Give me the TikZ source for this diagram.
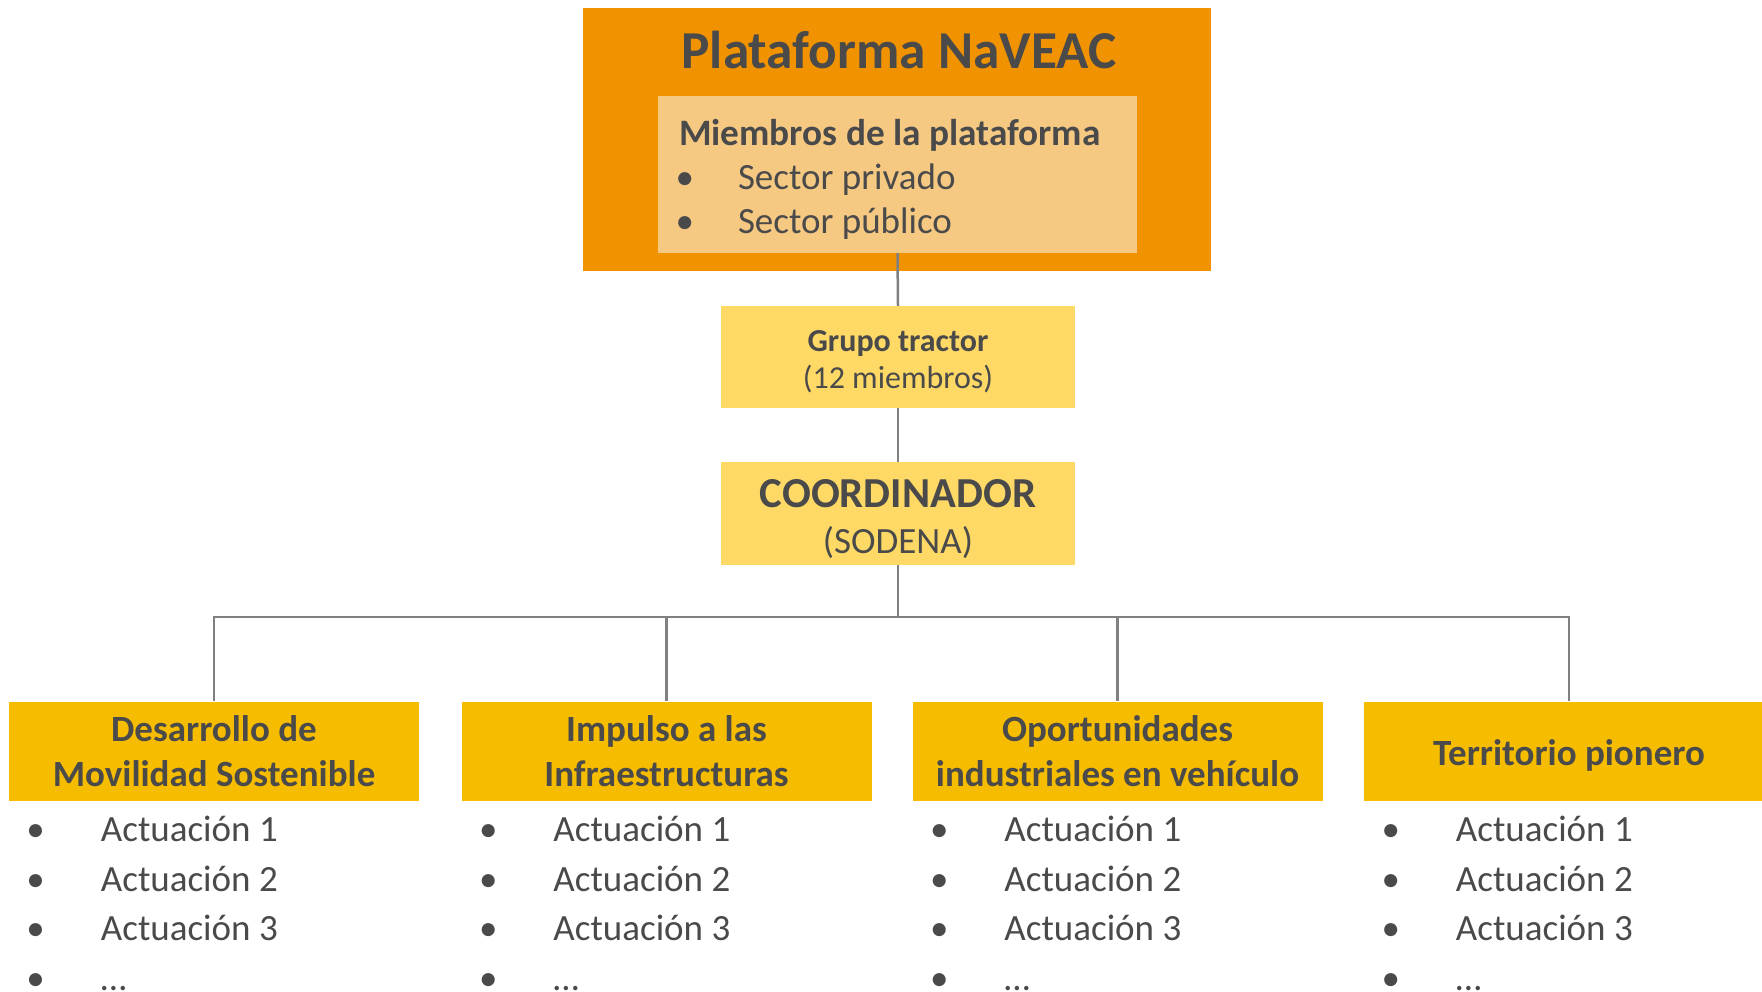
\documentclass[tikz,border=0pt]{standalone}
\usepackage{fontspec}
\setmainfont{Carlito}
\usetikzlibrary{positioning}
\definecolor{platorange}{HTML}{F19300}
\definecolor{memberfill}{HTML}{F6C983}
\definecolor{paleyellow}{HTML}{FFD966}
\definecolor{gold}{HTML}{F6BC00}
\definecolor{ink}{HTML}{4A4A4A}
\definecolor{wire}{HTML}{808080}
\newcommand{\bul}[1]{\makebox[#1][l]{\hspace{-3.5pt}•}}

\begin{document}
\begin{tikzpicture}[x=1pt, y=-1pt, text=ink,
    box/.style={inner sep=0pt, align=center},
    areabox/.style={box, fill=gold, minimum width=410pt, minimum height=99pt,
                    font=\fontsize{37}{45}\selectfont\bfseries},
    actlist/.style={inner sep=0pt, align=left, font=\fontsize{37}{49.5}\selectfont},
    link/.style={wire, line width=2.5pt}]
  \useasboundingbox (0,0) rectangle (1762,991);
  \clip (0,0) rectangle (1762,991);
  % platform and its members
  \node[box, fill=platorange, minimum width=628pt, minimum height=263pt] (plat) at (897,139.5) {};
  \node[box, font=\fontsize{53.3}{60}\selectfont\bfseries] (title) at (899,50) {Plataforma NaVEAC};
  \node[box, fill=memberfill, align=flush left, inner xsep=21pt, text width=437pt, minimum height=157pt,
        font=\fontsize{37}{44}\selectfont] (members) at (897.5,174.5)
       {\rule{0pt}{35.5pt}{\fontsize{37.3}{44}\selectfont\bfseries Miembros de la plataforma}\\
        \bul{59pt}Sector privado\\
        \bul{59pt}Sector público};
  \node[box, fill=paleyellow, minimum width=354pt, minimum height=102pt,
        font=\fontsize{32}{37}\selectfont] (group) at (898,357)
       {\rule{0pt}{30pt}\textbf{Grupo tractor}\\(12 miembros)};
  \node[box, fill=paleyellow, minimum width=354pt, minimum height=103pt,
        font=\fontsize{37}{46}\selectfont] (coord) at (898,513.5)
       {\rule{0pt}{40pt}{\fontsize{42.7}{46}\selectfont\bfseries COORDINADOR}\\(SODENA)};
  \draw[link] (members.south) -- (group.north);
  \draw[link] (group.south) -- (coord.north);
  \coordinate (bus) at (898,617);
  \draw[link] (coord.south) -- (bus);
  % working areas
  \foreach \name/\cx/\head in {mov/214/{Desarrollo de\\Movilidad Sostenible},
      infra/666.5/{Impulso a las\\Infraestructuras},
      indus/1117.5/{Oportunidades\\industriales en vehículo},
      terr/1569/{\rule{0pt}{34pt}Territorio pionero}} {
    \node[areabox] (\name) at (\cx,751) {\head};
    \draw[link] (bus) -| (\name.north);
    \node[actlist, below right=15.5pt and 21pt of \name.south west] (\name-list)
         {\bul{71pt}Actuación 1\\
          \bul{71pt}Actuación 2\\
          \bul{71pt}Actuación 3\\
          \bul{71pt}…};
  }
\end{tikzpicture}
\end{document}
